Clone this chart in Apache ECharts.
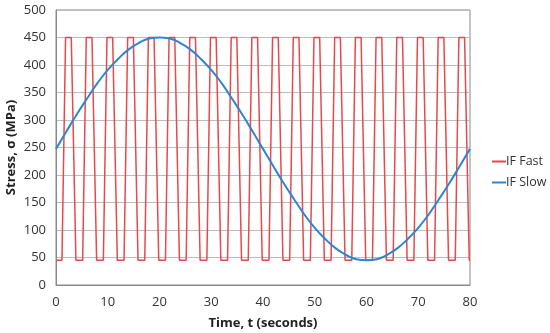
<!DOCTYPE html>
<html>
<head>
<meta charset="utf-8">
<script src="https://cdn.jsdelivr.net/npm/echarts@6/dist/echarts.min.js"></script>
<style>html,body{margin:0;padding:0;background:#fff;}#c{width:550px;height:333px;}</style>
</head>
<body>
<div id="c"></div>
<script>
var fastT = [0,
 1.15,1.85,2.95,3.85, 5.15,5.85,6.95,7.85, 9.15,9.85,10.95,11.85, 13.15,13.85,14.95,15.85,
 17.15,17.85,18.95,19.85, 21.15,21.85,22.95,23.85, 25.15,25.85,26.95,27.85, 29.15,29.85,30.95,31.85,
 33.15,33.85,34.95,35.85, 37.15,37.85,38.95,39.85, 41.15,41.85,42.95,43.85, 45.15,45.85,46.95,47.85,
 49.15,49.85,50.95,51.85, 53.15,53.85,54.95,55.85, 57.15,57.85,58.95,59.85, 61.15,61.85,62.95,63.85,
 65.15,65.85,66.95,67.85, 69.15,69.85,70.95,71.85, 73.15,73.85,74.95,75.85, 77.15,77.85,78.95,79.85,
 80];
var fastV = [45,
 45,450,450,45, 45,450,450,45, 45,450,450,45, 45,450,450,45,
 45,450,450,45, 45,450,450,45, 45,450,450,45, 45,450,450,45,
 45,450,450,45, 45,450,450,45, 45,450,450,45, 45,450,450,45,
 45,450,450,45, 45,450,450,45, 45,450,450,45, 45,450,450,45,
 45,450,450,45, 45,450,450,45, 45,450,450,45, 45,450,450,45,
 45];
var slowT = [0,2,4,6,8,10,12,14,16,18,20,22,24,26,28,30,32,34,36,38,40,
 42,44,46,48,50,52,54,56,58,60,62,64,66,68,70,72,74,76,78,80];
var slowV = [247.5,279,310,339,367,391,411,428,440,448,450,448,440,428,411,391,367,339,310,279,247.5,
 216,185,156,128,104,84,67,55,47,45,47,55,67,84,104,128,156,185,216,247.5];
var seriesNames = ['IF Fast','IF Slow'];
var xTitle = 'Time, t (seconds)';
var yTitle = 'Stress, \u03c3 (MPa)';

function pairs(t, v){ var o=[]; for (var i=0;i<t.length;i++) o.push([t[i], v[i]]); return o; }

var font = '"Open Sans", "Liberation Sans", sans-serif';
var chart = echarts.init(document.getElementById('c'), null, {renderer:'canvas'});
chart.setOption({
  animation:false,
  backgroundColor:'#fff',
  grid:{left:56, right:80, top:10, bottom:48, show:true, borderColor:'#8a8a8a', borderWidth:1,
        containLabel:false, outerBoundsMode:'none'},
  legend:{
    orient:'vertical', left:487, top:150, itemWidth:14, itemHeight:2, itemGap:8, icon:'rect',
    textStyle:{fontFamily:font, fontSize:12.5, color:'#333', padding:[0,0,0,-5]},
    data:seriesNames
  },
  xAxis:{
    type:'value', min:0, max:80, interval:10,
    name:xTitle, nameLocation:'middle', nameGap:32, nameMoveOverlap:false,
    nameTextStyle:{fontFamily:font, fontSize:13, fontWeight:'bold', color:'#222'},
    axisLine:{show:true, lineStyle:{color:'#8a8a8a'}},
    axisTick:{show:false},
    splitLine:{show:false},
    axisLabel:{fontFamily:font, fontSize:13, color:'#333', margin:11}
  },
  yAxis:{
    type:'value', min:0, max:500, interval:50,
    name:yTitle, nameLocation:'middle', nameGap:38, nameRotate:90, nameMoveOverlap:false,
    nameTextStyle:{fontFamily:font, fontSize:13, fontWeight:'bold', color:'#222'},
    axisLine:{show:true, lineStyle:{color:'#8a8a8a'}},
    axisTick:{show:false},
    splitLine:{show:true, lineStyle:{color:'#bcbcbc', width:1}},
    axisLabel:{fontFamily:font, fontSize:13, color:'#333', margin:10}
  },
  series:[
    {name:seriesNames[0], type:'line', data:pairs(fastT, fastV), symbol:'none',
     lineStyle:{color:'#e8484c', width:1.5}, itemStyle:{color:'#e8484c'}, z:2},
    {name:seriesNames[1], type:'line', data:pairs(slowT, slowV), symbol:'none', smooth:true,
     lineStyle:{color:'#2f86cc', width:2}, itemStyle:{color:'#2f86cc'}, z:3}
  ]
});
</script>
</body>
</html>
